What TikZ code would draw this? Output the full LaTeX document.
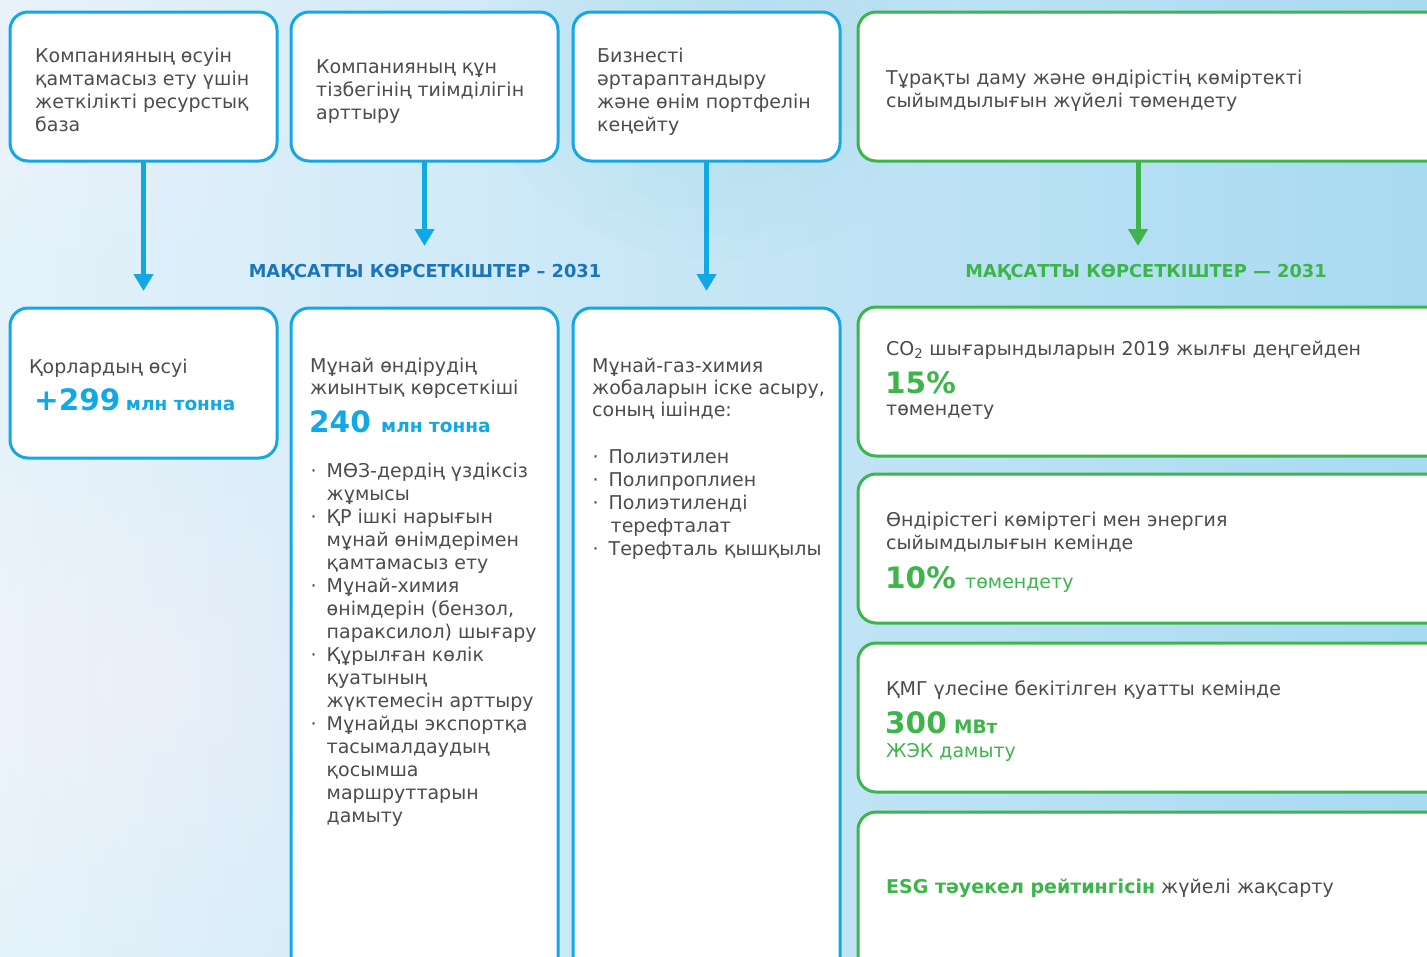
\documentclass[tikz,border=0pt]{standalone}
\usepackage{fontspec}
\setmainfont{DejaVu Sans}
\usetikzlibrary{arrows.meta}
\definecolor{kblue}{RGB}{18,168,230}
\definecolor{ktitle}{RGB}{27,117,187}
\definecolor{kgreen}{RGB}{61,181,74}
\definecolor{ktext}{RGB}{76,76,76}
\definecolor{bgA}{RGB}{228,242,250}
\definecolor{bgB}{RGB}{168,218,241}
\newcommand\klines[1]{\begin{tabular}[t]{@{}l@{}}#1\end{tabular}}
\newcommand\kbul{\makebox[16pt][l]{·}}
\newcommand\kind{\hspace*{16pt}}
\begin{document}
\begin{tikzpicture}[x=1pt,y=-1pt,
  box/.style={draw=kblue, line width=3pt, fill=white, rounded corners=18pt, anchor=north west, inner sep=0pt, outer sep=0pt, minimum width=267pt},
  gbox/.style={box, draw=kgreen, minimum width=600pt},
  body/.style={text=ktext, font=\fontsize{19}{23}\selectfont, anchor=base west, inner sep=0pt},
  bodyt/.style={body, font=\fontsize{19}{22}\selectfont},
  ttl/.style={font=\fontsize{17.8}{20}\selectfont\bfseries, anchor=base, inner sep=0pt},
  bignum/.style={font=\fontsize{29.5}{31}\selectfont\bfseries, anchor=base west, inner sep=0pt},
  unit/.style={font=\fontsize{18.5}{22}\selectfont\bfseries, anchor=base west, inner sep=0pt},
  arr/.style={line width=5pt, -{Triangle[width=19pt,length=17pt]}},
]
\useasboundingbox (0,0) rectangle (1427,956);
\clip (0,0) rectangle (1427,956);
% background
\shade[left color=bgA, right color=bgB] (0,0) rectangle (1427,956);
\foreach \k in {1,...,12} {\fill[white, opacity=0.05] (160,680) ellipse ({32*\k} and {24*\k});}
\foreach \k in {1,...,8} {\fill[white, opacity=0.05] (90,90) ellipse ({30*\k} and {20*\k});}
\foreach \k in {1,...,8} {\fill[bgB, opacity=0.07] (720,60) ellipse ({30*\k} and {25*\k});}

% top boxes
\node[box, minimum height=149pt] (t1) at (10,12) {};
\node[box, minimum height=149pt] (t2) at (291,12) {};
\node[box, minimum height=149pt] (t3) at (573,12) {};
\node[gbox, minimum height=149pt] (t4) at (858,12) {};

% bottom boxes
\node[box, minimum height=150pt] (b1) at (10,308) {};
\node[box, minimum height=680pt] (b2) at (291,308) {};
\node[box, minimum height=680pt] (b3) at (573,308) {};
\node[gbox, minimum height=149pt] (g1) at (858,307) {};
\node[gbox, minimum height=149pt] (g2) at (858,474) {};
\node[gbox, minimum height=149pt] (g3) at (858,643) {};
\node[gbox, minimum height=180pt] (g4) at (858,812) {};

% arrows
\coordinate (a1) at (143.5,291);
\coordinate (a2) at (424.5,246);
\coordinate (a3) at (706.5,291);
\coordinate (a4) at (1138,246);
\draw[arr, kblue] (t1.south) -- (a1);
\draw[arr, kblue] (t2.south) -- (a2);
\draw[arr, kblue] (t3.south) -- (a3);
\draw[arr, kgreen] (t4.south -| a4) -- (a4);

% titles
\node[ttl, text=ktitle] (h1) at (425,277.5) {МАҚСАТТЫ КӨРСЕТКІШТЕР – 2031};
\node[ttl, text=kgreen] (h2) at (1146,277.5) {МАҚСАТТЫ КӨРСЕТКІШТЕР — 2031};

% top texts
\node[body] (t1x) at (35,62) {\klines{Компанияның өсуін\\қамтамасыз ету үшін\\жеткілікті ресурстық\\база}};
\node[body] (t2x) at (316,73) {\klines{Компанияның құн\\тізбегінің тиімділігін\\арттыру}};
\node[body] (t3x) at (597,62) {\klines{Бизнесті\\әртараптандыру\\және өнім портфелін\\кеңейту}};
\node[body] (t4x) at (886,84) {\klines{Тұрақты даму және өндірістің көміртекті\\сыйымдылығын жүйелі төмендету}};

% bottom box 1
\node[body] (b1x) at (29,373) {Қорлардың өсуі};
\node[bignum, text=kblue] (b1n) at (34,410) {+299};
\node[unit, text=kblue] (b1u) at ([xshift=5pt]b1n.base east) {млн тонна};

% bottom box 2
\node[bodyt] (b2x) at (310,372) {\klines{Мұнай өндірудің\\жиынтық көрсеткіші}};
\node[bignum, text=kblue] (b2n) at (309,432) {240};
\node[unit, text=kblue] (b2u) at ([xshift=10pt]b2n.base east) {млн тонна};
\node[body] (b2l) at (310.5,477) {\klines{\kbul МӨЗ-дердің үздіксіз\\\kind жұмысы\\\kbul ҚР ішкі нарығын\\\kind мұнай өнімдерімен\\\kind қамтамасыз ету\\\kbul Мұнай-химия\\\kind өнімдерін (бензол,\\\kind параксилол) шығару\\\kbul Құрылған көлік\\\kind қуатының\\\kind жүктемесін арттыру\\\kbul Мұнайды экспортқа\\\kind тасымалдаудың\\\kind қосымша\\\kind маршруттарын\\\kind дамыту}};

% bottom box 3
\node[bodyt] (b3x) at (592,372) {\klines{Мұнай-газ-химия\\жобаларын іске асыру,\\соның ішінде:}};
\node[body] (b3l) at (592.5,463) {\klines{\kbul Полиэтилен\\\kbul Полипроплиен\\\kbul Полиэтиленді\\\kind\hspace*{2pt}терефталат\\\kbul Терефталь қышқылы}};

% green boxes
\node[body] (g1x) at (886,355) {CO\textsubscript{2} шығарындыларын 2019 жылғы деңгейден};
\node[bignum, text=kgreen] (g1n) at (885,393) {15\%};
\node[body] (g1y) at (886,415) {төмендету};

\node[body] (g2x) at (886,526.5) {\klines{Өндірістегі көміртегі мен энергия\\сыйымдылығын кемінде}};
\node[bignum, text=kgreen] (g2n) at (885,588) {10\%};
\node[body, text=kgreen] (g2y) at ([xshift=9pt]g2n.base east) {төмендету};

\node[body] (g3x) at (886,695.5) {ҚМГ үлесіне бекітілген қуатты кемінде};
\node[bignum, text=kgreen] (g3n) at (885,733) {300};
\node[unit, text=kgreen] (g3u) at ([xshift=7pt]g3n.base east) {МВт};
\node[body, text=kgreen] (g3y) at (886,757) {ЖЭК дамыту};

\node[body] (g4x) at (886,893.5) {{\color{kgreen}\bfseries ESG тәуекел рейтингісін} жүйелі жақсарту};
\end{tikzpicture}
\end{document}
